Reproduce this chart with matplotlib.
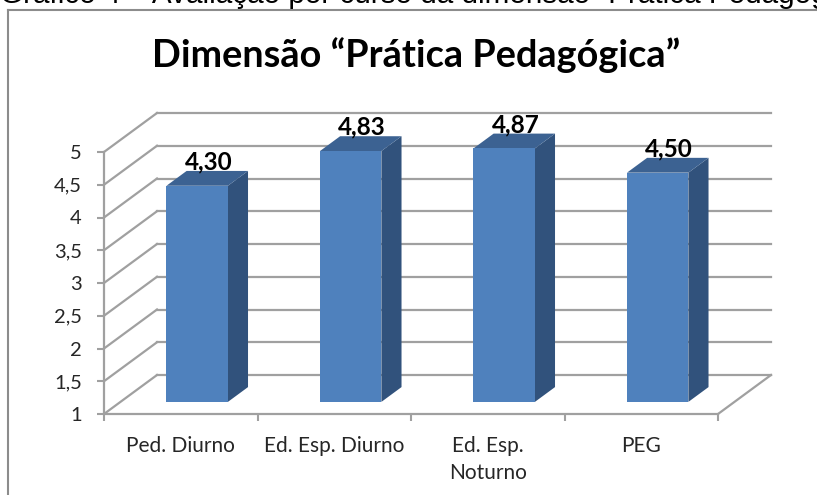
import matplotlib
matplotlib.use('Agg')
import matplotlib.pyplot as plt
from matplotlib.patches import Polygon

cursos = ['Ped. Diurno', 'Ed. Esp. Diurno', 'Ed. Esp.\nNoturno', 'PEG']
valores = [4.30, 4.83, 4.87, 4.50]
rotulos = ['4,30', '4,83', '4,87', '4,50']
yticks = [1, 1.5, 2, 2.5, 3, 3.5, 4, 4.5, 5]
ylabels = ['1', '1,5', '2', '2,5', '3', '3,5', '4', '4,5', '5']

W, H = 817, 495
# front plane of the 3d box, in pixels
x0, x1 = 104, 718
y_bot, y_top = 414, 152
# depth of the box, converted to data units
dx = 53 / ((x1 - x0) / 4)
dy = 39 / ((y_bot - y_top) / 4)

grid = '#a0a0a0'
azul = '#4f81bd'
azul_topo = '#3c6292'
azul_lado = '#31527c'

plt.rcParams['font.family'] = ['Lato', 'DejaVu Sans']

fig = plt.figure(figsize=(W / 100, H / 100), dpi=100)
ax = fig.add_axes([x0 / W, 1 - y_bot / H, (x1 - x0) / W, (y_bot - y_top) / H])
ax.set_xlim(0, 4)
ax.set_ylim(1, 5)
ax.patch.set_visible(False)
for s in ax.spines.values():
    s.set_visible(False)


def oblique(x, y, d):
    return (x + d * dx, y + d * dy)


# walls
for v in yticks:
    ax.plot([0, dx], [v, v + dy], color=grid, lw=1.6, clip_on=False, zorder=1)
    ax.plot([dx, 4 + dx], [v + dy, v + dy], color=grid, lw=1.6, clip_on=False, zorder=1)
ax.plot([4, 4 + dx], [1, 1 + dy], color=grid, lw=1.6, clip_on=False, zorder=1)
ax.plot([0, 0], [1, 5], color=grid, lw=1.6, clip_on=False, zorder=1)
ax.plot([0, 4], [1, 1], color=grid, lw=1.6, clip_on=False, zorder=1)

ax.set_xticks([0, 1, 2, 3, 4])
ax.set_xticklabels([])
ax.set_yticks(yticks)
ax.set_yticklabels(ylabels, fontsize=14.5, color='#262626')
ax.tick_params(axis='y', length=5, width=1.5, color=grid, pad=11)
ax.tick_params(axis='x', length=5, width=1.5, color=grid)

# bars
d_front, d_back = 0.31, 0.69
larg = 0.4
for i, v in enumerate(valores):
    l = i + 0.5 - larg / 2
    r = i + 0.5 + larg / 2
    frente = [oblique(l, 1, d_front), oblique(r, 1, d_front), oblique(r, v, d_front), oblique(l, v, d_front)]
    lado = [oblique(r, 1, d_front), oblique(r, 1, d_back), oblique(r, v, d_back), oblique(r, v, d_front)]
    topo = [oblique(l, v, d_front), oblique(r, v, d_front), oblique(r, v, d_back), oblique(l, v, d_back)]
    ax.add_patch(Polygon(lado, fc=azul_lado, ec='none', clip_on=False, zorder=3))
    ax.add_patch(Polygon(topo, fc=azul_topo, ec='none', clip_on=False, zorder=3))
    ax.add_patch(Polygon(frente, fc=azul, ec='none', clip_on=False, zorder=4))
    tx, ty = oblique(i + 0.5, v, 0.5)
    ax.annotate(rotulos[i], (tx, ty), xytext=(0.8, 6.5), textcoords='offset points', ha='center', va='baseline',
                fontsize=17.5, fontweight='bold', color='black', zorder=5, annotation_clip=False)

for i, c in enumerate(cursos):
    ax.annotate(c, (i + 0.5, 1), xytext=(0, -16), textcoords='offset points', ha='center', va='top',
                fontsize=15, color='#262626', linespacing=1.4, annotation_clip=False)

# moldura do grafico
fig.add_artist(plt.Line2D([8 / W, 8 / W], [0, 1 - 10 / H], color='#8c8c8c', lw=1.5))
fig.add_artist(plt.Line2D([8 / W, 1], [1 - 10 / H, 1 - 10 / H], color='#8c8c8c', lw=1.5))

fig.text(152 / W, 1 - 67 / H, 'Dimensão “Prática Pedagógica”', fontsize=27.3, fontweight='bold',
         color='black', ha='left', va='baseline')
# legenda cortada no topo da pagina
fig.text(0 / W, 1 - 3 / H, 'Gráfico 4 – Avaliação por curso da dimensão “Prática Pedagógica”', fontsize=21.3,
         family=['Liberation Sans', 'DejaVu Sans'], color='black', ha='left', va='baseline')

fig.savefig('out.png', dpi=100)
